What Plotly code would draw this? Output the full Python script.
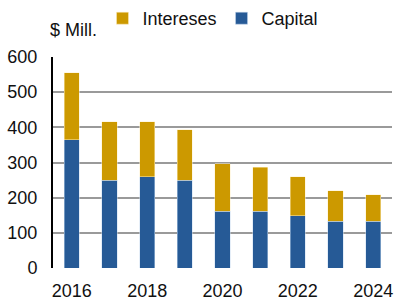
import plotly.graph_objects as go

years = [2016, 2017, 2018, 2019, 2020, 2021, 2022, 2023, 2024]
capital = [364, 250, 259, 249, 162, 162, 148, 133, 133]
intereses = [191, 166, 157, 144, 134, 125, 112, 86, 75]
y_ticks = [0, 100, 200, 300, 400, 500, 600]
x_ticks = [2016, 2018, 2020, 2022, 2024]

blue = "#265A96"
gold = "#CC9900"
font = dict(family="Liberation Sans, Arial, sans-serif", size=18, color="#111111")

fig = go.Figure()
fig.add_trace(go.Bar(x=years, y=capital, name="Capital", marker=dict(color=blue, line=dict(color="rgba(200,220,240,0.6)", width=0.8)),
                     width=0.4, legendrank=2))
fig.add_trace(go.Bar(x=years, y=intereses, name="Intereses", marker=dict(color=gold, line=dict(color="rgba(255,240,200,0.6)", width=0.8)),
                     width=0.4, legendrank=1))

fig.update_layout(
    barmode="stack",
    width=395, height=303,
    margin=dict(l=53, r=2, t=57, b=33),
    paper_bgcolor="white", plot_bgcolor="white",
    font=font,
    showlegend=True,
    legend=dict(orientation="h", traceorder="normal", x=0.146, xanchor="left", y=1.0, yref="container", yanchor="top",
                font=dict(size=18), itemwidth=30, tracegroupgap=0, bgcolor="rgba(0,0,0,0)"),
    annotations=[dict(text="$ Mill.", xref="paper", yref="paper", x=-0.015, y=1.127, xanchor="left", yanchor="middle",
                      showarrow=False, font=dict(size=18))],
)
fig.update_xaxes(range=[2015.5, 2024.5], tickvals=x_ticks, ticktext=[str(v) for v in x_ticks],
                 showgrid=False, showline=False, zeroline=False, ticks="", ticklabelstandoff=10,
                 tickfont=dict(size=18))
fig.update_yaxes(range=[0, 600], tickvals=y_ticks, showgrid=True, gridcolor="#9a9a9a", gridwidth=2,
                 showline=True, linecolor="black", linewidth=2, zeroline=False, ticks="",
                 ticklabelstandoff=10, tickfont=dict(size=18))

fig.write_html("out.html", config={"displayModeBar": False},
               post_script="document.body.style.margin='0px';document.body.style.padding='0px';")
